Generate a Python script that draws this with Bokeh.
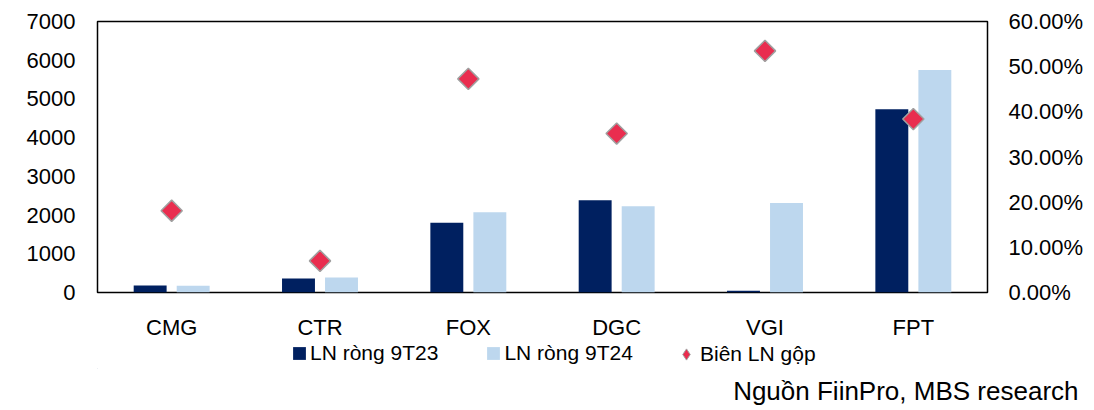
import math
from bokeh.plotting import figure
from bokeh.layouts import column
from bokeh.models import (FactorRange, Range1d, LinearAxis, NumeralTickFormatter,
                          FixedTicker, Legend, LegendItem, Title, ColumnDataSource)
from bokeh.transform import dodge
from bokeh.embed import file_html
from bokeh.resources import INLINE

# ---- data ----
categories = ["CMG", "CTR", "FOX", "DGC", "VGI", "FPT"]
ln_rong_9t23 = [180, 360, 1800, 2385, 45, 4735]
ln_rong_9t24 = [175, 385, 2075, 2230, 2310, 5745]
bien_ln_gop = [0.181, 0.070, 0.473, 0.352, 0.535, 0.384]
left_ticks = [0, 1000, 2000, 3000, 4000, 5000, 6000, 7000]
right_ticks = [0.0, 0.1, 0.2, 0.3, 0.4, 0.5, 0.6]
series_names = ["LN ròng 9T23", "LN ròng 9T24", "Biên LN gộp"]
source_note = "Nguồn FiinPro, MBS research"

DARK = "#002060"
LIGHT = "#BDD7EE"
RED = "#E92D4F"
GREY = "#A0A0A0"
FONT = "Liberation Sans"

src = ColumnDataSource(dict(cat=categories, a=ln_rong_9t23, b=ln_rong_9t24, m=bien_ln_gop))

p = figure(width=1094, height=342, x_range=FactorRange(*categories, range_padding=0),
           y_range=Range1d(left_ticks[0], left_ticks[-1]),
           output_backend="svg", toolbar_location=None,
           min_border_left=97, min_border_right=107, min_border_top=21, min_border_bottom=48)
p.extra_y_ranges = {"pct": Range1d(right_ticks[0], right_ticks[-1])}

p.xgrid.grid_line_color = None
p.ygrid.grid_line_color = None
p.outline_line_color = "black"
p.outline_line_width = 1.5
p.background_fill_color = "white"
p.border_fill_color = "white"

r1 = p.vbar(x=dodge("cat", -0.145, range=p.x_range), top="a", width=0.222, source=src,
            fill_color=DARK, line_color=None)
r2 = p.vbar(x=dodge("cat", 0.145, range=p.x_range), top="b", width=0.222, source=src,
            fill_color=LIGHT, line_color=None)
r3 = p.scatter(x="cat", y="m", y_range_name="pct", source=src, marker="square",
               angle=math.pi / 4, size=15, fill_color=RED, line_color=GREY, line_width=1.5)

# axes
ya = p.yaxis[0]
ya.ticker = FixedTicker(ticks=left_ticks)
ya.axis_line_color = None
ya.major_tick_line_color = None
ya.minor_tick_line_color = None
ya.major_tick_out = 0
ya.major_tick_in = 0
ya.major_label_standoff = 22
ya.major_label_text_font = FONT
ya.major_label_text_font_size = "22px"
ya.major_label_text_color = "black"

ra = LinearAxis(y_range_name="pct", ticker=FixedTicker(ticks=right_ticks),
                formatter=NumeralTickFormatter(format="0.00%"))
ra.axis_line_color = None
ra.major_tick_line_color = None
ra.minor_tick_line_color = None
ra.major_tick_out = 0
ra.major_tick_in = 0
ra.major_label_standoff = 21
ra.major_label_text_font = FONT
ra.major_label_text_font_size = "22px"
ra.major_label_text_color = "black"
p.add_layout(ra, "right")

xa = p.xaxis[0]
xa.axis_line_color = None
xa.major_tick_line_color = None
xa.major_tick_out = 0
xa.major_tick_in = 0
xa.major_label_standoff = 22
xa.major_label_text_font = FONT
xa.major_label_text_font_size = "22px"
xa.major_label_text_color = "black"

# ---- legend + source strip ----
q = figure(width=1094, height=68, x_range=Range1d(0, 10), y_range=Range1d(0, 10),
           output_backend="svg", toolbar_location=None,
           min_border_left=0, min_border_right=0, min_border_top=0, min_border_bottom=0)
q.axis.visible = False
q.xgrid.grid_line_color = None
q.ygrid.grid_line_color = None
q.outline_line_color = None

# legend swatches only (points placed far outside the visible range)
l1 = q.vbar(x=[-1000], top=[-1000], bottom=[-1001], width=1, fill_color=DARK, line_color=None)
l2 = q.vbar(x=[-1000], top=[-1000], bottom=[-1001], width=1, fill_color=LIGHT, line_color=None)
l3 = q.scatter(x=[-1000], y=[-1000], marker="diamond", size=14, fill_color=RED,
               line_color=GREY, line_width=1)

legend_bars = Legend(items=[LegendItem(label=series_names[0], renderers=[l1]),
                            LegendItem(label=series_names[1], renderers=[l2])],
                     orientation="horizontal", location=(194, 3),
                     glyph_width=16, glyph_height=16, label_standoff=3, spacing=47,
                     padding=0, margin=0, border_line_color=None, background_fill_alpha=0,
                     label_text_font=FONT, label_text_font_size="21px",
                     label_text_color="black")
q.add_layout(legend_bars, "center")

legend_marker = Legend(items=[LegendItem(label=series_names[2], renderers=[l3])],
                       orientation="horizontal", location=(575, 0),
                       glyph_width=28, glyph_height=28, label_standoff=0,
                       padding=0, margin=0, border_line_color=None, background_fill_alpha=0,
                       label_text_font=FONT, label_text_font_size="21px",
                       label_text_color="black")
q.add_layout(legend_marker, "center")

note = Title(text=source_note, align="right", offset=-91, standoff=10,
             text_font=FONT, text_font_size="26px", text_font_style="normal",
             text_color="black")
q.add_layout(note, "below")

layout = column(p, q, spacing=0)
open("out.html", "w").write(file_html(layout, INLINE))
